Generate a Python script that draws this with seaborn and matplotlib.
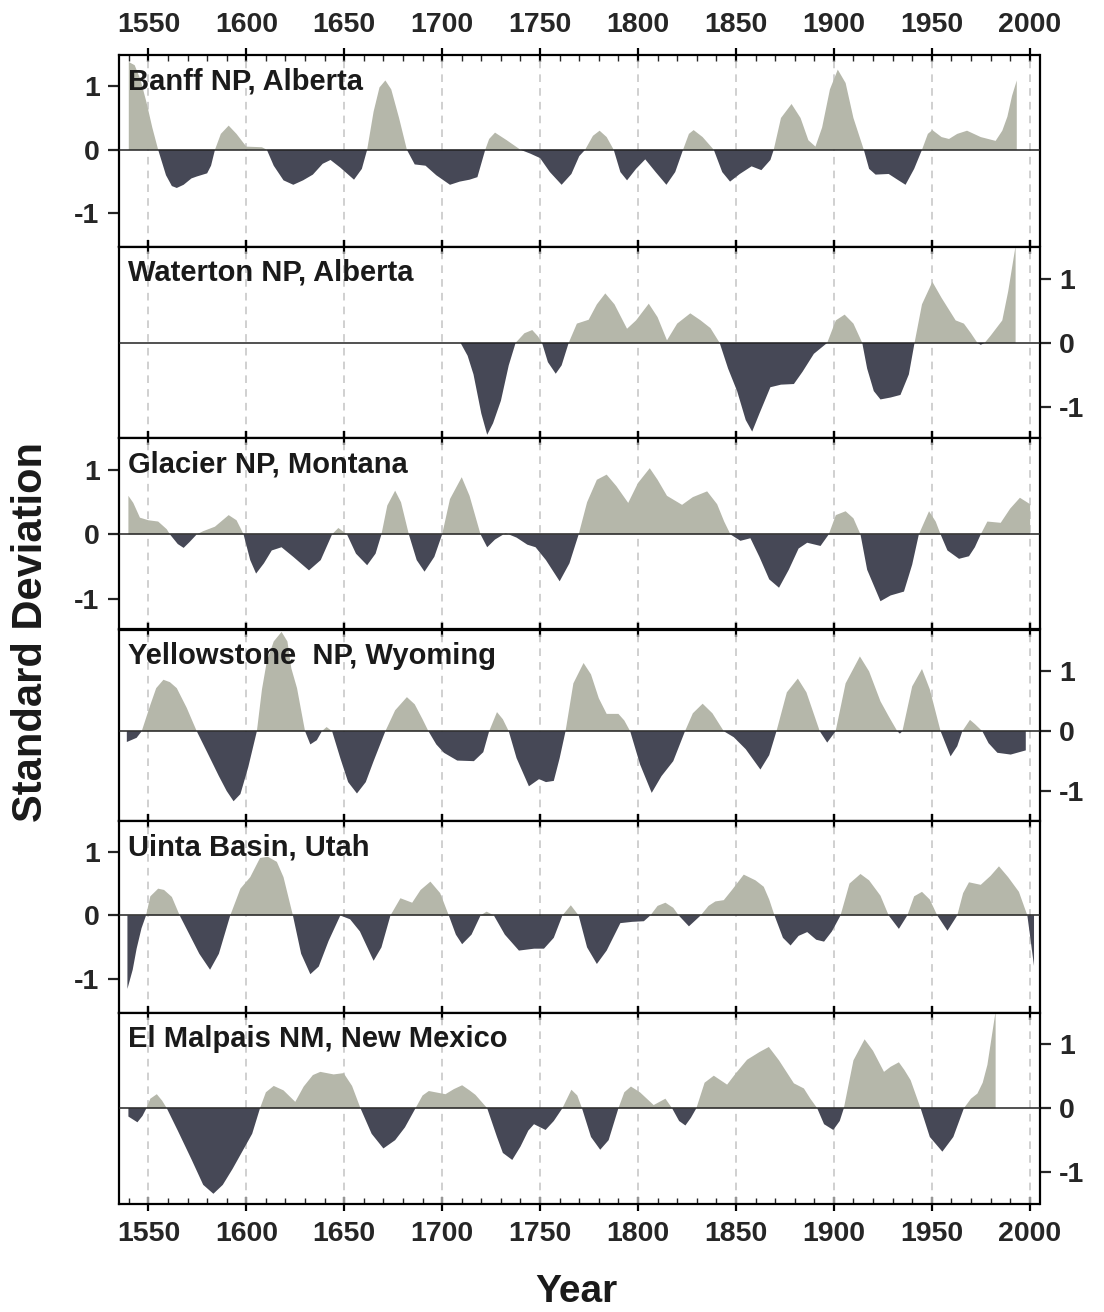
import numpy as np
import pandas as pd
import matplotlib
matplotlib.use("Agg")
import matplotlib.pyplot as plt
from matplotlib.ticker import MultipleLocator, FixedLocator
import seaborn as sns

# ---------------- data ----------------
site_names = ["Banff NP, Alberta", "Waterton NP, Alberta", "Glacier NP, Montana",
              "Yellowstone  NP, Wyoming", "Uinta Basin, Utah", "El Malpais NM, New Mexico"]

banff_years = [1540, 1543, 1546, 1549, 1552, 1555, 1559, 1562, 1564.5, 1568, 1572, 1574.7, 1580, 1582, 1584,
               1587, 1591, 1595, 1600, 1608, 1610.5, 1614, 1619, 1624, 1629, 1634, 1639, 1643, 1648, 1655, 1659,
               1661.7, 1665, 1668, 1671, 1674, 1678, 1682, 1686, 1691.5, 1697, 1704, 1709, 1714, 1718, 1722,
               1724, 1727, 1733, 1740, 1745, 1750, 1755, 1761, 1766, 1770, 1773, 1777, 1780.4, 1784, 1787.6,
               1791, 1794.4, 1799, 1803.7, 1809, 1814.5, 1819, 1823, 1826, 1828.4, 1833, 1838.7, 1843, 1847,
               1852, 1858, 1863, 1867.6, 1869.3, 1873, 1878.4, 1883, 1887, 1890.6, 1894, 1898, 1902, 1906, 1910,
               1915.3, 1918, 1921.3, 1928, 1933, 1936.6, 1941, 1945, 1948, 1950.3, 1955, 1958.8, 1963, 1968,
               1975, 1982.6, 1986, 1988.6, 1991, 1993.4]
banff_values = [1.38, 1.33, 1.1, 0.75, 0.35, 0.0, -0.4, -0.57, -0.6, -0.55, -0.45, -0.42, -0.37, -0.25, 0.0,
                0.25, 0.38, 0.25, 0.05, 0.04, 0.0, -0.25, -0.48, -0.55, -0.48, -0.39, -0.22, -0.16, -0.28, -0.47,
                -0.3, 0.0, 0.6, 0.98, 1.09, 0.95, 0.5, 0.0, -0.23, -0.25, -0.4, -0.55, -0.5, -0.47, -0.43, 0.0,
                0.17, 0.27, 0.15, 0.0, -0.06, -0.13, -0.35, -0.55, -0.38, -0.1, 0.0, 0.22, 0.30, 0.2, 0.0,
                -0.35, -0.48, -0.3, -0.15, -0.35, -0.55, -0.35, 0.0, 0.25, 0.31, 0.2, 0.0, -0.35, -0.5,
                -0.38, -0.26, -0.32, -0.16, 0.0, 0.5, 0.72, 0.5, 0.15, 0.05, 0.35, 0.95, 1.26, 1.05, 0.5,
                0.0, -0.3, -0.39, -0.38, -0.48, -0.55, -0.3, 0.0, 0.25, 0.31, 0.2, 0.17, 0.25, 0.3,
                0.2, 0.14, 0.3, 0.52, 0.85, 1.09]

waterton_years = [1709.4, 1713, 1716, 1720, 1723, 1726, 1730, 1734, 1737.5, 1742, 1746, 1749, 1751, 1754, 1758,
                  1761, 1764.6, 1768.8, 1774.8, 1779, 1783.3, 1788, 1794.4, 1799, 1805.5, 1810, 1814.8, 1820,
                  1826.7, 1832, 1837, 1841.7, 1846, 1850.6, 1855, 1858.3, 1862, 1867.6, 1873, 1879.6, 1884,
                  1889.8, 1896.6, 1901, 1905.5, 1910, 1914.5, 1917, 1920.4, 1923.8, 1929, 1934, 1938.3, 1941.2,
                  1945, 1950.3, 1955, 1962.2, 1966.4, 1970, 1973.3, 1975, 1977, 1980, 1986, 1989, 1992.8]
waterton_values = [0.0, -0.2, -0.49, -1.1, -1.43, -1.25, -0.9, -0.35, 0.0, 0.15, 0.2, 0.1, 0.0, -0.3, -0.48,
                   -0.35, 0.0, 0.3, 0.36, 0.6, 0.77, 0.6, 0.22, 0.35, 0.61, 0.4, 0.04, 0.3,
                   0.46, 0.35, 0.23, 0.0, -0.4, -0.75, -1.2, -1.38, -1.1, -0.69, -0.65, -0.64, -0.45,
                   -0.17, 0.0, 0.35, 0.44, 0.3, 0.0, -0.4, -0.75, -0.88, -0.85, -0.81, -0.49, 0.0,
                   0.6, 0.95, 0.7, 0.35, 0.3, 0.15, 0.0, -0.03, 0.0, 0.11, 0.35, 0.8, 1.51]

glacier_years = [1539.8, 1542.3, 1545.7, 1550, 1555, 1559.4, 1561, 1565, 1568, 1571, 1574.7, 1578, 1584, 1591,
                 1595, 1597, 1598.6, 1602, 1605, 1609, 1613, 1618, 1624, 1632, 1638, 1643.8, 1647, 1651.4, 1656,
                 1661.7, 1666, 1669, 1672, 1676, 1679, 1683, 1687, 1691, 1696, 1700, 1704, 1710, 1714, 1719.6,
                 1723, 1727, 1732.4, 1738, 1743.5, 1747.7, 1753, 1760, 1765, 1769.7, 1774, 1779, 1784, 1789,
                 1795, 1800, 1806, 1810, 1814.8, 1822.5, 1828, 1835.3, 1840.4, 1844, 1847.2, 1852.3, 1857.4,
                 1862, 1867, 1872, 1877, 1882, 1886.4, 1893.2, 1897.4, 1901, 1906, 1910, 1913.6, 1917, 1923.8,
                 1929, 1935.8, 1940, 1943.4, 1948.6, 1952, 1954.5, 1958, 1963.9, 1969, 1972, 1975, 1978.4,
                 1985.2, 1990, 1995, 2000.2]
glacier_values = [0.6, 0.49, 0.26, 0.22, 0.2, 0.08, 0.0, -0.15, -0.21, -0.12, 0.0, 0.05, 0.12, 0.3,
                  0.22, 0.1, 0.0, -0.4, -0.61, -0.45, -0.25, -0.2, -0.35, -0.56, -0.4, 0.0, 0.1, 0.0, -0.3,
                  -0.48, -0.3, 0.0, 0.45, 0.68, 0.5, 0.0, -0.4, -0.58, -0.35, 0.0, 0.55, 0.89, 0.6, 0.0,
                  -0.2, -0.08, 0.02, -0.05, -0.16, -0.2, -0.4, -0.73, -0.45, 0.0, 0.5, 0.85, 0.93, 0.75,
                  0.49, 0.8, 1.03, 0.85, 0.6, 0.46, 0.58, 0.67, 0.47, 0.2, 0.0, -0.1, -0.06,
                  -0.35, -0.7, -0.83, -0.55, -0.22, -0.13, -0.18, 0.0, 0.3, 0.36, 0.25, 0.0, -0.55, -1.04,
                  -0.95, -0.89, -0.47, 0.0, 0.36, 0.2, 0.0, -0.25, -0.38, -0.34, -0.2, 0.0, 0.2,
                  0.18, 0.4, 0.57, 0.47]

yellowstone_years = [1539, 1544, 1546.6, 1551, 1554, 1557.7, 1561, 1564.5, 1569.6, 1574.7, 1580, 1586, 1590,
                     1593.5, 1597, 1601, 1605.4, 1608, 1610.5, 1614, 1618, 1621, 1623, 1625.9, 1628, 1630,
                     1632.7, 1636, 1638.6, 1641, 1643.8, 1648, 1652, 1656.5, 1661, 1665, 1671, 1676, 1682, 1686,
                     1690, 1693, 1697, 1700.9, 1707.7, 1716.2, 1721, 1724, 1728, 1731, 1734, 1738, 1744.3,
                     1749.5, 1753, 1757, 1760, 1763, 1767, 1772.2, 1776, 1780, 1784, 1790, 1793, 1796, 1801,
                     1807, 1812, 1818, 1824, 1828, 1833, 1838, 1843.8, 1848.9, 1855, 1862.5, 1867, 1870.7, 1876,
                     1881.6, 1886, 1892.8, 1896.6, 1900.9, 1906, 1913.3, 1918, 1923.8, 1928, 1932.4, 1933.7,
                     1935, 1940, 1945, 1949, 1954.5, 1959.6, 1963, 1965.6, 1969.5, 1972, 1975.8, 1979, 1983.5,
                     1990.3, 1998]
yellowstone_values = [-0.18, -0.11, 0.0, 0.44, 0.72, 0.86, 0.82, 0.72, 0.39, 0.0, -0.35, -0.75, -1.0,
                      -1.17, -1.05, -0.6, 0.0, 0.7, 1.17, 1.5, 1.66, 1.5, 1.05, 0.72, 0.35, 0.0,
                      -0.22, -0.15, 0.0, 0.07, 0.0, -0.45, -0.85, -1.04, -0.85, -0.5, 0.0, 0.35, 0.57, 0.45,
                      0.2, 0.0, -0.22, -0.36, -0.49, -0.5, -0.35, 0.0, 0.32, 0.2, 0.0, -0.45, -0.92,
                      -0.8, -0.85, -0.83, -0.45, 0.0, 0.8, 1.14, 0.95, 0.55, 0.29, 0.29, 0.18, 0.0, -0.55,
                      -1.03, -0.75, -0.5, 0.0, 0.3, 0.46, 0.3, 0.0, -0.1, -0.3, -0.64, -0.4, 0.0, 0.65,
                      0.88, 0.65, 0.0, -0.19, 0.0, 0.8, 1.25, 1.0, 0.5, 0.25, 0.0, -0.04,
                      0.0, 0.75, 1.04, 0.7, 0.0, -0.42, -0.25, 0.0, 0.19, 0.12, 0.0, -0.2, -0.36,
                      -0.39, -0.32]

uinta_years = [1539.3, 1542, 1544, 1546.5, 1548.8, 1551, 1555, 1558, 1562, 1566, 1571, 1576, 1581.5, 1586,
               1591.8, 1597, 1602, 1607, 1611, 1615.6, 1619, 1623.8, 1628, 1632.7, 1637, 1642, 1648, 1653, 1658,
               1665, 1669, 1673.6, 1678.7, 1684.7, 1689, 1694, 1699, 1703.4, 1707, 1710.2, 1715, 1719.6,
               1722.7, 1726.4, 1732, 1739.2, 1747, 1752, 1757, 1761.4, 1765.7, 1769.7, 1774, 1779, 1784, 1791,
               1797, 1803, 1806.3, 1810, 1814, 1818, 1820.8, 1826, 1832, 1836, 1839.5, 1843.8, 1848, 1854,
               1860, 1864.2, 1867, 1869.7, 1874, 1877.9, 1882, 1886.4, 1891, 1895, 1899, 1903.4, 1908, 1913.6,
               1918, 1923.8, 1928, 1933.2, 1937.5, 1941, 1945, 1949, 1952.8, 1958, 1963, 1966, 1969, 1975,
               1980, 1984.3, 1989, 1994.5, 1998.8, 2002.2]
uinta_values = [-1.15, -0.85, -0.52, -0.2, 0.0, 0.3, 0.42, 0.4, 0.29, 0.0, -0.3, -0.6, -0.85, -0.6,
                0.0, 0.42, 0.6, 0.9, 0.92, 0.84, 0.6, 0.0, -0.6, -0.92, -0.8, -0.4, 0.0, -0.06, -0.25,
                -0.71, -0.5, 0.0, 0.27, 0.2, 0.4, 0.53, 0.35, 0.0, -0.3, -0.45, -0.3, 0.0,
                0.06, 0.0, -0.3, -0.55, -0.52, -0.52, -0.35, 0.0, 0.16, 0.0, -0.5, -0.76, -0.55, -0.12,
                -0.1, -0.09, 0.0, 0.15, 0.2, 0.12, 0.0, -0.17, 0.0, 0.15, 0.22, 0.24, 0.4, 0.64,
                0.55, 0.45, 0.25, 0.0, -0.35, -0.47, -0.32, -0.26, -0.38, -0.41, -0.25, 0.0, 0.5, 0.65,
                0.55, 0.31, 0.0, -0.21, 0.0, 0.3, 0.37, 0.25, 0.0, -0.24, 0.0, 0.35, 0.52, 0.48,
                0.62, 0.77, 0.6, 0.37, 0.0, -0.79]

malpais_years = [1539.8, 1544.4, 1547, 1549, 1551, 1554.3, 1557, 1559.4, 1565, 1572, 1578, 1583.2, 1588, 1593,
                 1597, 1603, 1607, 1610, 1614, 1619, 1625, 1629.3, 1634, 1637.8, 1644.6, 1649.7, 1654, 1658.3,
                 1664, 1670, 1676, 1681, 1686.4, 1690, 1693.2, 1701.7, 1706, 1710.2, 1714, 1717, 1723, 1728,
                 1731, 1735.8, 1740, 1744, 1746.9, 1752.8, 1757, 1761.4, 1766, 1769, 1771.4, 1776, 1780.7, 1785,
                 1790, 1793, 1796.4, 1801, 1808, 1814, 1817.4, 1821, 1824.2, 1827, 1829.8, 1834, 1838.7,
                 1845.5, 1850, 1855.7, 1862, 1866.8, 1872, 1879.6, 1884.7, 1888, 1891.5, 1895, 1899.7, 1903,
                 1905.1, 1910, 1915.7, 1920, 1925.6, 1929, 1933.2, 1936, 1939.2, 1944.3, 1949, 1955.4, 1961,
                 1966.4, 1970, 1973.3, 1976, 1978.4, 1980.5, 1982.6]
malpais_values = [-0.13, -0.22, -0.12, 0.0, 0.15, 0.22, 0.12, 0.0, -0.35, -0.8, -1.2, -1.34, -1.2, -0.95,
                  -0.73, -0.4, 0.0, 0.25, 0.35, 0.28, 0.1, 0.34, 0.52, 0.57, 0.53, 0.55, 0.35, 0.0,
                  -0.4, -0.63, -0.5, -0.3, 0.0, 0.2, 0.27, 0.22, 0.3, 0.36, 0.28, 0.21, 0.0, -0.45,
                  -0.7, -0.81, -0.6, -0.35, -0.25, -0.34, -0.2, 0.0, 0.29, 0.2, 0.0, -0.45, -0.65, -0.5,
                  0.0, 0.25, 0.34, 0.25, 0.05, 0.15, 0.0, -0.2, -0.27, -0.15, 0.0, 0.4, 0.51,
                  0.37, 0.55, 0.76, 0.88, 0.96, 0.75, 0.39, 0.31, 0.15, 0.0, -0.25, -0.34, -0.2,
                  0.0, 0.75, 1.08, 0.9, 0.57, 0.65, 0.72, 0.6, 0.44, 0.0, -0.45, -0.68, -0.45,
                  0.0, 0.15, 0.23, 0.4, 0.68, 1.1, 1.52]

series = [(banff_years, banff_values), (waterton_years, waterton_values), (glacier_years, glacier_values),
          (yellowstone_years, yellowstone_values), (uinta_years, uinta_values), (malpais_years, malpais_values)]

x_ticks = [1550, 1600, 1650, 1700, 1750, 1800, 1850, 1900, 1950, 2000]
y_ticks = [-1, 0, 1]
y_limits = [(-1.52, 1.49), (-1.48, 1.5), (-1.48, 1.5), (-1.5, 1.7), (-1.52, 1.48), (-1.5, 1.5)]

# ---------------- style ----------------
POS = "#b5b7aa"
NEG = "#464856"
sns.set_style("ticks")
plt.rcParams["font.family"] = ["Liberation Sans", "DejaVu Sans"]
plt.rcParams["font.weight"] = "bold"

fig = plt.figure(figsize=(11.04, 13.12), dpi=100)
axes = fig.subplots(6, 1, gridspec_kw=dict(hspace=0))
fig.subplots_adjust(left=119 / 1104, right=1039.5 / 1104, top=1 - 55 / 1312, bottom=1 - 1204 / 1312)

for i, (ax, name, (yrs, vals)) in enumerate(zip(axes, site_names, series)):
    df = pd.DataFrame({"year": yrs, "value": vals})
    x = df["year"].to_numpy()
    y = df["value"].to_numpy()
    sns.lineplot(data=df, x="year", y="value", ax=ax, color=NEG, linewidth=0, legend=False)
    ax.fill_between(x, y, 0, where=y >= 0, interpolate=True, color=POS, linewidth=0, zorder=2)
    ax.fill_between(x, y, 0, where=y <= 0, interpolate=True, color=NEG, linewidth=0, zorder=2)
    ax.axhline(0, color="#222222", linewidth=1.1, zorder=3)

    ax.set_xlim(1535, 2005)
    ax.set_ylim(*y_limits[i])
    ax.set_xlabel("")
    ax.set_ylabel("")

    for v in x_ticks:
        ax.axvline(v, color="#c4c4c4", linewidth=1.1, linestyle=(0, (5, 4)), zorder=1)

    ax.xaxis.set_major_locator(FixedLocator(x_ticks))
    ax.xaxis.set_minor_locator(MultipleLocator(10))
    ax.tick_params(axis="x", which="major", direction="inout", length=10, width=1.6,
                   top=True, bottom=True, labelbottom=(i == 5), labeltop=(i == 0),
                   labelsize=20.5, pad=7, color="black")
    ax.tick_params(axis="x", which="minor", direction="in", length=4, width=1.0,
                   top=(i == 0), bottom=(i == 5))

    ax.yaxis.set_major_locator(FixedLocator(y_ticks))
    ax.set_yticklabels(["-1", "0", "1"])
    if i % 2 == 0:
        ax.tick_params(axis="y", which="major", direction="out", length=8, width=1.6,
                       left=True, right=False, labelleft=True, labelright=False, labelsize=20.5, pad=6)
    else:
        ax.tick_params(axis="y", which="major", direction="out", length=8, width=1.6,
                       left=False, right=True, labelleft=False, labelright=True, labelsize=20.5, pad=6)
    ax.tick_params(axis="y", which="minor", left=False, right=False)

    for sp in ax.spines.values():
        sp.set_visible(True)
        sp.set_linewidth(1.6)
        sp.set_color("black")

    ax.text(0.010, 0.935, name, transform=ax.transAxes, ha="left", va="top",
            fontsize=21, fontweight="bold", color="#1a1a1a", zorder=5)

for ax in axes:
    for lab in ax.get_xticklabels() + ax.get_yticklabels():
        lab.set_fontweight("bold")

fig.text(0.028, 0.518, "Standard Deviation", rotation=90, ha="center", va="center",
         fontsize=30, fontweight="bold", color="#1a1a1a")
fig.text(0.5225, 0.015, "Year", ha="center", va="center", fontsize=28, fontweight="bold", color="#1a1a1a")

fig.savefig("out.png", dpi=100, facecolor="white")
